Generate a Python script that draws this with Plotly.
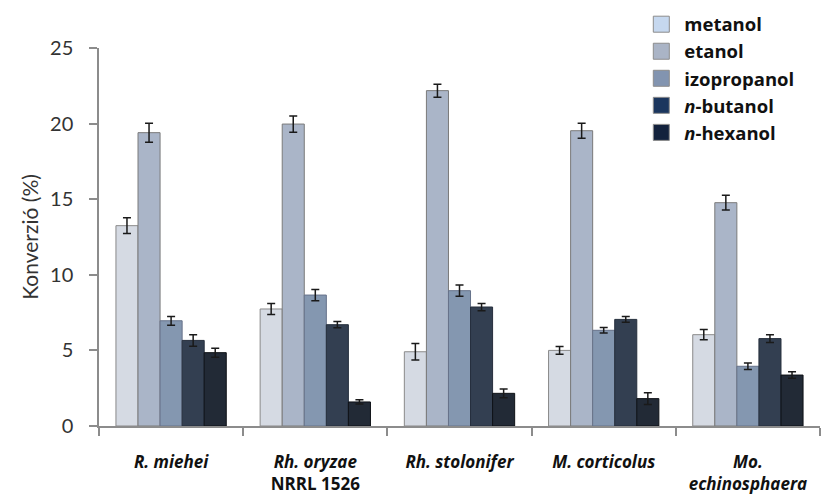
import plotly.graph_objects as go

# Fungal strains on the category axis
strains = [
    "<i>R. miehei</i>",
    "<i>Rh. oryzae</i><br>NRRL 1526",
    "<i>Rh. stolonifer</i>",
    "<i>M. corticolus</i>",
    "<i>Mo.</i><br><i>echinosphaera</i>",
]

# Alcohols (series) and their legend labels
alcohols = ["metanol", "etanol", "izopropanol", "<i>n</i>-butanol", "<i>n</i>-hexanol"]

# Conversion (%) per alcohol, one value per strain
metanol = [13.25, 7.74, 4.91, 5.00, 6.04]
etanol = [19.40, 19.97, 22.18, 19.53, 14.77]
izopropanol = [6.96, 8.66, 8.95, 6.33, 3.95]
n_butanol = [5.66, 6.70, 7.87, 7.05, 5.78]
n_hexanol = [4.85, 1.59, 2.16, 1.81, 3.37]

# Standard deviations
metanol_sd = [0.52, 0.36, 0.55, 0.26, 0.34]
etanol_sd = [0.63, 0.54, 0.43, 0.50, 0.49]
izopropanol_sd = [0.29, 0.37, 0.37, 0.18, 0.22]
n_butanol_sd = [0.38, 0.21, 0.24, 0.19, 0.26]
n_hexanol_sd = [0.30, 0.14, 0.29, 0.39, 0.22]

values = [metanol, etanol, izopropanol, n_butanol, n_hexanol]
errors = [metanol_sd, etanol_sd, izopropanol_sd, n_butanol_sd, n_hexanol_sd]

bar_fill = ["#d5dae3", "#aab5c8", "#8497b0", "#333f51", "#222a36"]
bar_edge = ["#8a8a8a", "#7a7a7a", "#66728a", "#262f3d", "#0e1116"]
legend_fill = ["#c6d8ef", "#aab4c6", "#8294b0", "#1b365e", "#13223d"]

FONT = "Lato"
LABEL_FONT = "Open Sans"

fig = go.Figure()

for name, y, err, fc, ec in zip(alcohols, values, errors, bar_fill, bar_edge):
    fig.add_trace(go.Bar(
        x=strains, y=y, name=name, showlegend=False,
        marker=dict(color=fc, line=dict(color=ec, width=1)),
        error_y=dict(type="data", array=err, visible=True,
                     color="#1a1a1a", thickness=1.5, width=4),
    ))

# Legend swatches
for name, lc in zip(alcohols, legend_fill):
    fig.add_trace(go.Scatter(
        x=[None], y=[None], mode="markers", name=name, showlegend=True,
        marker=dict(symbol="square", size=16, color=lc,
                    line=dict(color="#8c8c8c", width=1)),
    ))

fig.update_layout(
    width=825, height=495,
    margin=dict(l=99, r=5, t=48, b=69, autoexpand=False),
    paper_bgcolor="white", plot_bgcolor="white",
    barmode="group", bargap=0.235, bargroupgap=0,
    font=dict(family=FONT, color="#222222"),
    legend=dict(
        x=0.748, y=1.112, xanchor="left", yanchor="top",
        itemwidth=36,
        font=dict(family=LABEL_FONT, size=18.5, color="#111111", weight="bold"),
        bgcolor="rgba(0,0,0,0)", traceorder="normal",
    ),
    xaxis=dict(
        automargin=False,
        showline=True, linecolor="#8c8c8c", linewidth=1.5,
        ticks="outside", tickson="boundaries", ticklen=8,
        tickcolor="#8c8c8c", tickwidth=1.5,
        tickfont=dict(family=LABEL_FONT, size=17, color="#111111", weight="bold"),
        ticklabelstandoff=20,
        showgrid=False, zeroline=False,
    ),
    yaxis=dict(
        automargin=False,
        range=[0, 25], dtick=5, showline=True, linecolor="#8c8c8c",
        linewidth=1.5, ticks="outside", ticklen=8, tickcolor="#8c8c8c",
        tickwidth=1.5, showgrid=False, zeroline=False,
        ticklabelstandoff=12,
        tickfont=dict(family=FONT, size=20, color="#333333"),
        title=dict(text="Konverzió (%)", standoff=6,
                   font=dict(family=FONT, size=21, color="#333333")),
    ),
)

fig.write_html("out.html")
